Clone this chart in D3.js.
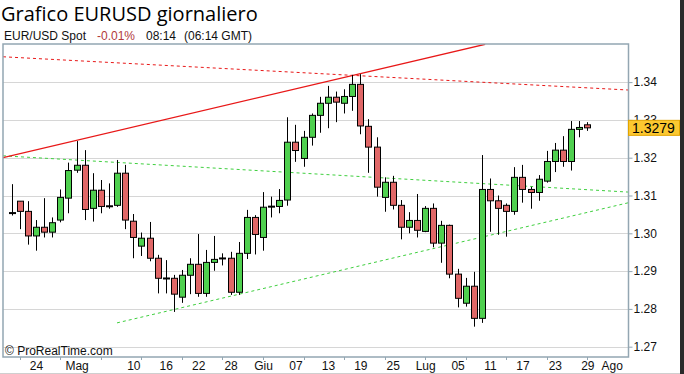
<!DOCTYPE html>
<html><head><meta charset="utf-8">
<script src="https://cdn.jsdelivr.net/npm/d3@7"></script>
<style>
html,body{margin:0;padding:0;background:#fff;overflow:hidden;}
svg{display:block;}
</style></head><body>
<svg id="c" width="684" height="374"></svg>
<script>
// ---- data (EUR/USD daily, 2013) ----
const dates = ["2013-04-19","2013-04-22","2013-04-23","2013-04-24","2013-04-25","2013-04-26","2013-04-29","2013-04-30",
"2013-05-01","2013-05-02","2013-05-03","2013-05-06","2013-05-07","2013-05-08","2013-05-09","2013-05-10","2013-05-13",
"2013-05-14","2013-05-15","2013-05-16","2013-05-17","2013-05-20","2013-05-21","2013-05-22","2013-05-23","2013-05-24",
"2013-05-27","2013-05-28","2013-05-29","2013-05-30","2013-05-31","2013-06-03","2013-06-04","2013-06-05","2013-06-06",
"2013-06-07","2013-06-10","2013-06-11","2013-06-12","2013-06-13","2013-06-14","2013-06-17","2013-06-18","2013-06-19",
"2013-06-20","2013-06-21","2013-06-24","2013-06-25","2013-06-26","2013-06-27","2013-06-28","2013-07-01","2013-07-02",
"2013-07-03","2013-07-04","2013-07-05","2013-07-08","2013-07-09","2013-07-10","2013-07-11","2013-07-12","2013-07-15",
"2013-07-16","2013-07-17","2013-07-18","2013-07-19","2013-07-22","2013-07-23","2013-07-24","2013-07-25","2013-07-26","2013-07-29"];
const open  = [1.3054,1.3085,1.3058,1.2993,1.3016,1.3003,1.3035,1.3093,1.3167,1.3180,1.3066,1.3114,1.3072,1.3074,1.3159,1.3032,
1.2966,1.2987,1.2934,1.2881,1.2881,1.2831,1.2889,1.2918,1.2841,1.2923,1.2934,1.2934,1.2844,1.2947,1.3042,1.2989,1.3071,1.3071,
1.3088,1.3241,1.3198,1.3254,1.3312,1.3344,1.3360,1.3344,1.3362,1.3394,1.3283,1.3228,1.3095,1.3135,1.3074,1.3016,1.3034,1.3005,
1.3066,1.2974,1.3021,1.2892,1.2815,1.2860,1.2775,1.3116,1.3086,1.3074,1.3058,1.3148,1.3116,1.3108,1.3138,1.3190,1.3220,1.3190,1.3275,1.3287];
const high  = [1.3130,1.3085,1.3085,1.3035,1.3093,1.3042,1.3116,1.3187,1.3244,1.3220,1.3159,1.3141,1.3132,1.3194,1.3181,1.3051,
1.3002,1.3030,1.2943,1.2929,1.2890,1.2903,1.2934,1.2998,1.2956,1.2993,1.2947,1.2951,1.2977,1.3062,1.3048,1.3109,1.3097,1.3117,
1.3307,1.3287,1.3271,1.3317,1.3361,1.3390,1.3375,1.3381,1.3419,1.3421,1.3302,1.3254,1.3148,1.3152,1.3088,1.3056,1.3104,1.3072,
1.3079,1.3033,1.3023,1.2906,1.2882,1.2898,1.3207,1.3145,1.3100,1.3079,1.3175,1.3181,1.3123,1.3154,1.3218,1.3239,1.3257,1.3297,1.3297,1.3294];
const low   = [1.3047,1.3011,1.2970,1.2954,1.2989,1.2989,1.3029,1.3053,1.3160,1.3035,1.3031,1.3053,1.3065,1.3070,1.3011,1.2934,
1.2940,1.2926,1.2841,1.2841,1.2792,1.2816,1.2839,1.2832,1.2832,1.2901,1.2915,1.2837,1.2837,1.2932,1.2944,1.2954,1.3042,1.3053,
1.3073,1.3189,1.3176,1.3232,1.3266,1.3278,1.3294,1.3317,1.3324,1.3262,1.3160,1.3097,1.3057,1.3063,1.2984,1.3000,1.2989,1.3003,
1.2963,1.2922,1.2881,1.2804,1.2806,1.2753,1.2763,1.3004,1.2996,1.2991,1.3049,1.3081,1.3065,1.3086,1.3134,1.3162,1.3176,1.3166,1.3254,1.3271];
const close = [1.3053,1.3058,1.2993,1.3016,1.3003,1.3028,1.3095,1.3166,1.3180,1.3063,1.3114,1.3071,1.3071,1.3159,1.3035,1.2989,
1.2987,1.2934,1.2881,1.2880,1.2839,1.2889,1.2918,1.2841,1.2923,1.2931,1.2933,1.2844,1.2947,1.3042,1.2997,1.3069,1.3070,1.3087,
1.3241,1.3219,1.3254,1.3312,1.3344,1.3360,1.3347,1.3362,1.3394,1.3284,1.3228,1.3122,1.3135,1.3074,1.3016,1.3034,1.3008,1.3066,
1.2974,1.3021,1.2892,1.2828,1.2860,1.2775,1.3116,1.3086,1.3066,1.3058,1.3148,1.3116,1.3108,1.3143,1.3190,1.3220,1.3190,1.3275,1.3280,1.3279];

const yTicks = [1.27,1.28,1.29,1.30,1.31,1.32,1.33,1.34];
const tickDates  = ["2013-04-24","2013-05-01","2013-05-10","2013-05-16","2013-05-22","2013-05-28","2013-06-03","2013-06-07","2013-06-13",
"2013-06-19","2013-06-25","2013-07-01","2013-07-05","2013-07-11","2013-07-17","2013-07-23","2013-07-29","2013-08-01"];
const tickLabels = ["24","Mag","10","16","22","28","Giu","07","13","19","25","Lug","05","11","17","23","29","Ago"];

// trend lines: [trading-day index, price] endpoints
const trendRedSolid  = [[-1.07,1.3200],[58.4,1.3500]];
const trendRedDash   = [[-1.07,1.3467],[76.1,1.3379]];
const trendGreenUp   = [[-1.07,1.3205],[76.1,1.3109]];
const trendGreenLow  = [[12.99,1.2763],[76.1,1.3081]];

const lastPrice = "1.3279";

// ---- helpers ----
const t0 = new Date(dates[0]+"T00:00:00Z");
function tradingIndex(ds){
  const d = new Date(ds+"T00:00:00Z"); let n=0;
  for(let t=new Date(t0); t<d; t.setUTCDate(t.getUTCDate()+1)){
    const w=new Date(t.getTime()+86400000).getUTCDay(); if(w!==0&&w!==6) n++;
  }
  return n;
}

const svg = d3.select("#c");
const L=3, R=628.5, T=44, B=357;
const x = d3.scaleLinear().domain([0,71]).range([11.7,587.3]);
const y = d3.scaleLinear().domain([1.27,1.34]).range([346.7,82.1]);

svg.append("defs").append("clipPath").attr("id","pc")
  .append("rect").attr("x",L).attr("y",T).attr("width",R-L).attr("height",B-T);

// grid
svg.append("g").selectAll("line").data(yTicks).join("line")
  .attr("x1",L).attr("x2",R).attr("y1",d=>Math.round(y(d))+0.5).attr("y2",d=>Math.round(y(d))+0.5)
  .attr("stroke","#d6d6d6").attr("stroke-width",1);

// trend lines
const line = d3.line().x(d=>x(d[0])).y(d=>y(d[1]));
const tg = svg.append("g").attr("clip-path","url(#pc)");
tg.append("path").attr("d",line(trendRedDash)).attr("fill","none").attr("stroke","#e81818").attr("stroke-width",1).attr("stroke-dasharray","3,3");
tg.append("path").attr("d",line(trendGreenUp)).attr("fill","none").attr("stroke","#3fcf3f").attr("stroke-width",1).attr("stroke-dasharray","3,3");
tg.append("path").attr("d",line(trendGreenLow)).attr("fill","none").attr("stroke","#3fcf3f").attr("stroke-width",1).attr("stroke-dasharray","3,3");
tg.append("path").attr("d",line(trendRedSolid)).attr("fill","none").attr("stroke","#e81818").attr("stroke-width",1.3);

// candles
const idx = d3.range(dates.length);
const cg = svg.append("g");
cg.selectAll("line.w").data(idx).join("line").attr("class","w")
  .attr("x1",i=>Math.round(x(i))+0.5).attr("x2",i=>Math.round(x(i))+0.5)
  .attr("y1",i=>y(high[i])).attr("y2",i=>y(low[i]))
  .attr("stroke","#000").attr("stroke-width",1);
cg.selectAll("rect.b").data(idx).join("rect").attr("class","b")
  .each(function(i){
    const o=open[i], c=close[i], cx=Math.round(x(i))+0.5;
    const s=d3.select(this);
    if(Math.abs(o-c)<0.0003){
      const yy=y((o+c)/2);
      s.attr("x",cx-3.5).attr("y",yy-1).attr("width",7).attr("height",2).attr("fill","#000");
    } else {
      const y1=y(Math.max(o,c)), y2=y(Math.min(o,c));
      s.attr("x",cx-3).attr("y",y1).attr("width",6).attr("height",Math.max(1,y2-y1))
       .attr("fill",c>o?"#4fd04f":"#e06767").attr("stroke","#000").attr("stroke-width",1);
    }
  });

// frame
svg.append("rect").attr("x",L).attr("y",T).attr("width",R-L).attr("height",B-T)
  .attr("fill","none").attr("stroke","#93a6b2").attr("stroke-width",1.5);

// y axis
const ya = svg.append("g").attr("transform",`translate(${R},0)`)
  .call(d3.axisRight(y).tickValues(yTicks).tickFormat(d3.format(".2f")).tickSize(4).tickPadding(1));
ya.select(".domain").remove();
ya.selectAll("line").attr("stroke","#93a6b2");
ya.selectAll("text").attr("font-family","Liberation Sans, Arial, sans-serif").attr("font-size",12).attr("fill","#111");

// last price tag
const py = y(+lastPrice);
svg.append("rect").attr("x",628.5).attr("y",py-7.5).attr("width",51).attr("height",15)
  .attr("fill","#fcc830").attr("stroke","#e2a400").attr("stroke-width",1);
svg.append("text").attr("x",632).attr("y",py+5).text(lastPrice)
  .attr("font-family","Liberation Sans, Arial, sans-serif").attr("font-size",14).attr("fill","#000");

// x axis
const tickIdx = tickDates.map(tradingIndex);
const xa = svg.append("g").attr("transform",`translate(0,${B})`)
  .call(d3.axisBottom(x).tickValues(tickIdx).tickFormat((d,i)=>tickLabels[i]).tickSize(0).tickPadding(4.5));
xa.select(".domain").remove();
xa.selectAll("text").attr("font-family","Liberation Sans, Arial, sans-serif").attr("font-size",12).attr("fill","#111");
// monday ticks
const mondays = idx.filter(i=>new Date(dates[i]+"T00:00:00Z").getUTCDay()===1);
svg.append("g").selectAll("line").data(mondays).join("line")
  .attr("x1",i=>Math.round(x(i))+0.5).attr("x2",i=>Math.round(x(i))+0.5).attr("y1",B).attr("y2",B+3)
  .attr("stroke","#93a6b2");

// right dark strip & bottom line
svg.append("rect").attr("x",680).attr("y",0).attr("width",4).attr("height",374).attr("fill","#2a2a2a");
svg.append("line").attr("x1",0).attr("x2",680).attr("y1",373.5).attr("y2",373.5).attr("stroke","#cfcfcf");

// titles
svg.append("text").attr("x",1).attr("y",20.5).text("Grafico EURUSD giornaliero")
  .attr("font-family","Open Sans, sans-serif").attr("font-size",20).attr("fill","#000");
const sub = [["EUR/USD Spot",4,"#111"],["-0.01%",97,"#b23a3a"],["08:14",146,"#111"],["(06:14 GMT)",184,"#111"]];
svg.append("g").selectAll("text").data(sub).join("text")
  .attr("x",d=>d[1]).attr("y",39.5).text(d=>d[0]).attr("fill",d=>d[2])
  .attr("font-family","Liberation Sans, Arial, sans-serif").attr("font-size",12);
svg.append("text").attr("x",5).attr("y",354.5).text("© ProRealTime.com")
  .attr("font-family","Liberation Sans, Arial, sans-serif").attr("font-size",12).attr("fill","#111");
</script>
</body></html>
